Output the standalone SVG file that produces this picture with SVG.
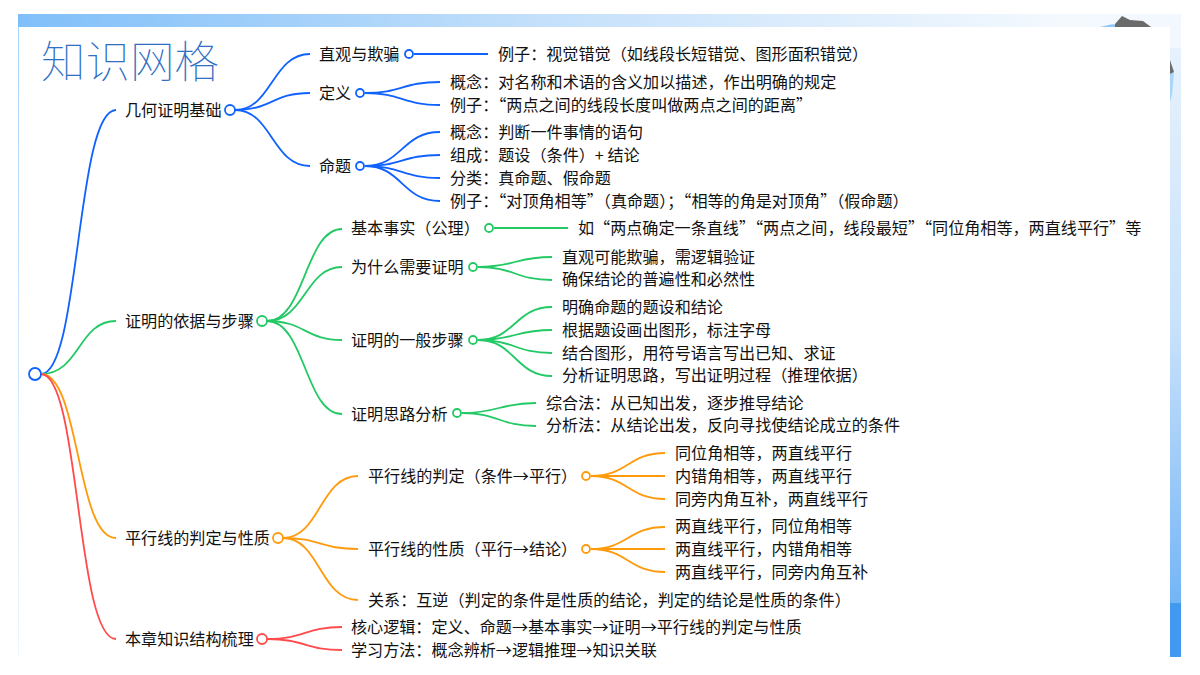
<svg xmlns="http://www.w3.org/2000/svg" width="1200" height="675" viewBox="0 0 1200 675">
<defs>
<linearGradient id="top" x1="0" y1="0" x2="1" y2="0"><stop offset="0" stop-color="#7fbff9"/><stop offset="0.45" stop-color="#c4e0fb"/><stop offset="0.9" stop-color="#f4f9fe"/><stop offset="1" stop-color="#f2f8fe"/></linearGradient>
<linearGradient id="right" x1="0" y1="0" x2="0" y2="1"><stop offset="0" stop-color="#e6f1fc"/><stop offset="0.5" stop-color="#c9e2fb"/><stop offset="1" stop-color="#74b5f6"/></linearGradient>
<linearGradient id="left" x1="0" y1="0" x2="0" y2="1"><stop offset="0" stop-color="#a8d4fb"/><stop offset="1" stop-color="#eef6fe"/></linearGradient>
</defs>
<style>
text{font-family:"Noto Sans CJK SC","Noto Sans",sans-serif;font-size:16.1px;fill:#111}
.title{font-size:44.5px;font-weight:100;fill:#2f6fc4}
path{fill:none;stroke-width:1.8}
circle{fill:#fff;stroke-width:1.8}
.b path,.b circle{stroke:#0f62fe}
.g path,.g circle{stroke:#22c964}
.o path,.o circle{stroke:#ff9a0c}
.r path,.r circle{stroke:#ff4b4b}
</style>
<g id="frame">
<rect x="18" y="14" width="1163" height="643" fill="url(#top)"/>
<rect x="1170" y="48" width="11" height="555" fill="url(#right)"/>
<rect x="1170" y="603" width="11" height="54" fill="#4299f0"/>
<path d="M1100 27Q1122 20 1145 27Z" style="fill:#8fc6f8;stroke:none"/>
<path d="M1115 24L1122 16L1130 20L1143 21L1151 27L1115 27Z" style="fill:#6b6b6b;stroke:none"/>
<path d="M1170 74L1174 72L1172 95L1170 102Z" style="fill:#a9d5fa;stroke:none"/>
<path d="M1168 54L1174 72L1170 74Z" style="fill:#6b6b6b;stroke:none"/>
<rect x="18" y="27" width="1152" height="630" fill="#fff"/>
<rect x="18" y="27" width="1" height="630" fill="url(#left)"/>
</g>
<text class="title" x="41" y="78">知识网格</text>
<g id="connectors">
<g class="b">
<path d="M41 374C80 374 76 110 116 110"/>
<path d="M235 110C272 110 272 54 310 54"/>
<path d="M235 110C272 110 272 93 310 93"/>
<path d="M235 110C272 110 272 166 310 166"/>
<path d="M414 54H488"/>
<path d="M365 93C402 93 402 82 440 82"/>
<path d="M365 93C402 93 402 105 440 105"/>
<path d="M365 166C402 166 402 132 440 132"/>
<path d="M365 166C402 166 402 155 440 155"/>
<path d="M365 166C402 166 402 178 440 178"/>
<path d="M365 166C402 166 402 201 440 201"/>
</g>
<g class="g">
<path d="M41 374C80 374 78 321 116 321"/>
<path d="M267 321C305 321 305 229 342 229"/>
<path d="M267 321C305 321 305 267 342 267"/>
<path d="M267 321C305 321 305 340 342 340"/>
<path d="M267 321C305 321 305 414 342 414"/>
<path d="M494 228H568"/>
<path d="M478 267C515 267 515 257 552 257"/>
<path d="M478 267C515 267 515 280 552 280"/>
<path d="M478 340C515 340 515 307 552 307"/>
<path d="M478 340C515 340 515 330 552 330"/>
<path d="M478 340C515 340 515 353 552 353"/>
<path d="M478 340C515 340 515 376 552 376"/>
<path d="M462 413C499 413 499 403 536 403"/>
<path d="M462 413C499 413 499 426 536 426"/>
</g>
<g class="o">
<path d="M41 374C80 374 76 538 116 538"/>
<path d="M283 538C320 538 320 476 358 476"/>
<path d="M283 538C320 538 320 549 358 549"/>
<path d="M283 538C320 538 320 600 358 600"/>
<path d="M591 476C628 476 628 453 665 453"/>
<path d="M591 476H665"/>
<path d="M591 476C628 476 628 499 665 499"/>
<path d="M591 549C628 549 628 527 665 527"/>
<path d="M591 549H665"/>
<path d="M591 549C628 549 628 572 665 572"/>
</g>
<g class="r">
<path d="M41 374C80 374 76 639 116 639"/>
<path d="M267 639C305 639 305 627 342 627"/>
<path d="M267 639C305 639 305 650 342 650"/>
</g>
</g>
<g id="root" class="b"><circle cx="35" cy="374" r="6"/></g>
<g id="n1" class="b"><text x="125" y="116">几何证明基础</text><circle cx="230" cy="110" r="5"/></g>
<g id="n1a" class="b"><text x="319" y="60">直观与欺骗</text><circle cx="409" cy="54" r="4"/></g>
<g id="n1a1"><text x="498" y="60">例子：视觉错觉（如线段长短错觉、图形面积错觉）</text></g>
<g id="n1b" class="b"><text x="319" y="99">定义</text><circle cx="360" cy="93" r="4"/></g>
<g id="n1b1"><text x="450" y="88">概念：对名称和术语的含义加以描述，作出明确的规定</text></g>
<g id="n1b2"><text x="450" y="111">例子：“两点之间的线段长度叫做两点之间的距离”</text></g>
<g id="n1c" class="b"><text x="319" y="172">命题</text><circle cx="360" cy="166" r="4"/></g>
<g id="n1c1"><text x="450" y="138">概念：判断一件事情的语句</text></g>
<g id="n1c2"><text x="450" y="161">组成：题设（条件）+ 结论</text></g>
<g id="n1c3"><text x="450" y="184">分类：真命题、假命题</text></g>
<g id="n1c4"><text x="450" y="207">例子：“对顶角相等”（真命题）；“相等的角是对顶角”（假命题）</text></g>
<g id="n2" class="g"><text x="125" y="327">证明的依据与步骤</text><circle cx="262" cy="321" r="5"/></g>
<g id="n2a" class="g"><text x="351" y="234">基本事实（公理）</text><circle cx="489" cy="228" r="4"/></g>
<g id="n2a1"><text x="578" y="234">如“两点确定一条直线”“两点之间，线段最短”“同位角相等，两直线平行”等</text></g>
<g id="n2b" class="g"><text x="351" y="273">为什么需要证明</text><circle cx="473" cy="267" r="4"/></g>
<g id="n2b1"><text x="562" y="263">直观可能欺骗，需逻辑验证</text></g>
<g id="n2b2"><text x="562" y="285">确保结论的普遍性和必然性</text></g>
<g id="n2c" class="g"><text x="351" y="346">证明的一般步骤</text><circle cx="473" cy="340" r="4"/></g>
<g id="n2c1"><text x="562" y="313">明确命题的题设和结论</text></g>
<g id="n2c2"><text x="562" y="336">根据题设画出图形，标注字母</text></g>
<g id="n2c3"><text x="562" y="359">结合图形，用符号语言写出已知、求证</text></g>
<g id="n2c4"><text x="562" y="381">分析证明思路，写出证明过程（推理依据）</text></g>
<g id="n2d" class="g"><text x="351" y="420">证明思路分析</text><circle cx="457" cy="413" r="4"/></g>
<g id="n2d1"><text x="546" y="409">综合法：从已知出发，逐步推导结论</text></g>
<g id="n2d2"><text x="546" y="431">分析法：从结论出发，反向寻找使结论成立的条件</text></g>
<g id="n3" class="o"><text x="125" y="544">平行线的判定与性质</text><circle cx="278" cy="538" r="5"/></g>
<g id="n3a" class="o"><text x="368" y="482">平行线的判定（条件→平行）</text><circle cx="586" cy="476" r="4"/></g>
<g id="n3a1"><text x="675" y="459">同位角相等，两直线平行</text></g>
<g id="n3a2"><text x="675" y="482">内错角相等，两直线平行</text></g>
<g id="n3a3"><text x="675" y="505">同旁内角互补，两直线平行</text></g>
<g id="n3b" class="o"><text x="368" y="555">平行线的性质（平行→结论）</text><circle cx="586" cy="549" r="4"/></g>
<g id="n3b1"><text x="675" y="532">两直线平行，同位角相等</text></g>
<g id="n3b2"><text x="675" y="555">两直线平行，内错角相等</text></g>
<g id="n3b3"><text x="675" y="578">两直线平行，同旁内角互补</text></g>
<g id="n3c"><text x="368" y="606">关系：互逆（判定的条件是性质的结论，判定的结论是性质的条件）</text></g>
<g id="n4" class="r"><text x="125" y="645">本章知识结构梳理</text><circle cx="262" cy="639" r="5"/></g>
<g id="n4a"><text x="351" y="633">核心逻辑：定义、命题→基本事实→证明→平行线的判定与性质</text></g>
<g id="n4b"><text x="351" y="656">学习方法：概念辨析→逻辑推理→知识关联</text></g>
</svg>
